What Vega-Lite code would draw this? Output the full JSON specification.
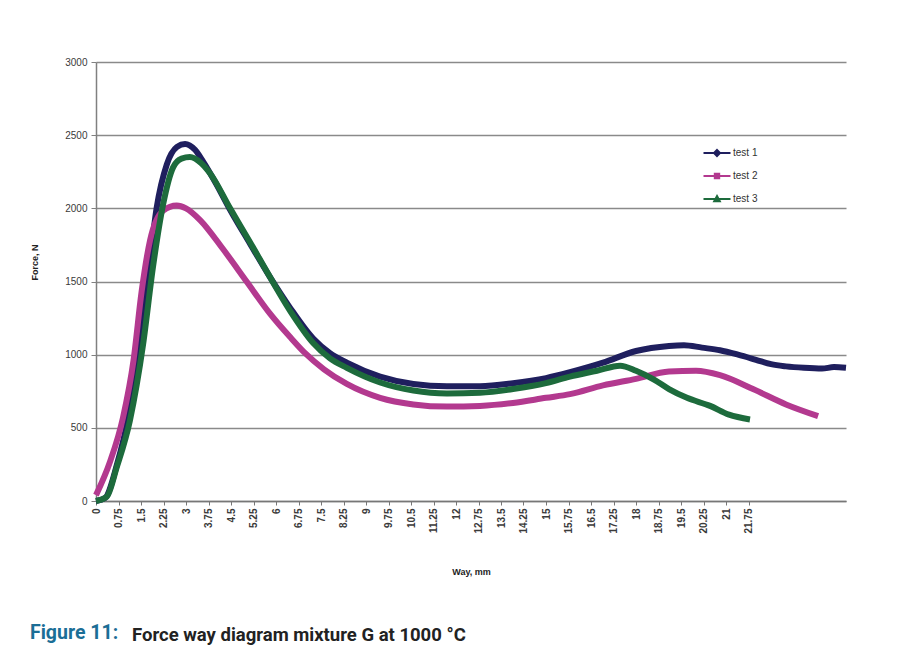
{
  "$schema": "https://vega.github.io/schema/vega-lite/v6.json",
  "background": "white",
  "padding": {"left": 30, "top": 57, "right": 5, "bottom": 5},
  "config": {"view": {"stroke": null}, "font": "Liberation Sans", "concat": {"spacing": 0}},
  "title": {"text": "Figure 11:", "orient": "bottom", "anchor": "start", "frame": "bounds", "color": "#1b6e96", "fontSize": 19.5, "font": "Roboto", "fontWeight": "bold", "offset": -21},
  "vconcat": [
    {
      "width": 750,
      "height": 439,
      "title": {"text": "Force way diagram mixture G at 1000 °C", "orient": "bottom", "anchor": "start", "frame": "bounds", "dx": 102, "offset": 50, "color": "#222222", "fontSize": 18.5, "font": "Roboto", "fontWeight": "bold"},
      "data": {"values": [
        {"series": "test 1", "way": 0, "force": 0},
        {"series": "test 1", "way": 0.3, "force": 20},
        {"series": "test 1", "way": 0.7, "force": 250},
        {"series": "test 1", "way": 1.1, "force": 600},
        {"series": "test 1", "way": 1.5, "force": 1150},
        {"series": "test 1", "way": 1.8, "force": 1650},
        {"series": "test 1", "way": 2.02, "force": 2000},
        {"series": "test 1", "way": 2.36, "force": 2300},
        {"series": "test 1", "way": 2.7, "force": 2420},
        {"series": "test 1", "way": 2.97, "force": 2440},
        {"series": "test 1", "way": 3.3, "force": 2400},
        {"series": "test 1", "way": 3.57, "force": 2320},
        {"series": "test 1", "way": 4.0, "force": 2170},
        {"series": "test 1", "way": 4.47, "force": 1990},
        {"series": "test 1", "way": 5.13, "force": 1760},
        {"series": "test 1", "way": 5.8, "force": 1530},
        {"series": "test 1", "way": 6.47, "force": 1320},
        {"series": "test 1", "way": 7.24, "force": 1110},
        {"series": "test 1", "way": 7.8, "force": 1010},
        {"series": "test 1", "way": 8.36, "force": 945},
        {"series": "test 1", "way": 9.47, "force": 850},
        {"series": "test 1", "way": 10.58, "force": 800},
        {"series": "test 1", "way": 11.7, "force": 785},
        {"series": "test 1", "way": 12.8, "force": 785},
        {"series": "test 1", "way": 13.9, "force": 805},
        {"series": "test 1", "way": 15.0, "force": 840},
        {"series": "test 1", "way": 15.8, "force": 880},
        {"series": "test 1", "way": 16.9, "force": 945},
        {"series": "test 1", "way": 18.0, "force": 1025},
        {"series": "test 1", "way": 19.1, "force": 1060},
        {"series": "test 1", "way": 19.6, "force": 1065},
        {"series": "test 1", "way": 20.2, "force": 1048},
        {"series": "test 1", "way": 20.8, "force": 1030},
        {"series": "test 1", "way": 21.4, "force": 1000},
        {"series": "test 1", "way": 22.0, "force": 965},
        {"series": "test 1", "way": 22.5, "force": 935},
        {"series": "test 1", "way": 23.0, "force": 920},
        {"series": "test 1", "way": 23.6, "force": 910},
        {"series": "test 1", "way": 24.2, "force": 905},
        {"series": "test 1", "way": 24.6, "force": 915},
        {"series": "test 1", "way": 25.0, "force": 910},
        {"series": "test 2", "way": 0, "force": 40},
        {"series": "test 2", "way": 0.47, "force": 270},
        {"series": "test 2", "way": 0.9, "force": 570},
        {"series": "test 2", "way": 1.25, "force": 960},
        {"series": "test 2", "way": 1.52, "force": 1430},
        {"series": "test 2", "way": 1.8, "force": 1780},
        {"series": "test 2", "way": 2.24, "force": 1985},
        {"series": "test 2", "way": 2.69, "force": 2020},
        {"series": "test 2", "way": 3.0, "force": 2000},
        {"series": "test 2", "way": 3.47, "force": 1920},
        {"series": "test 2", "way": 4.24, "force": 1720},
        {"series": "test 2", "way": 5.02, "force": 1500},
        {"series": "test 2", "way": 5.8, "force": 1280},
        {"series": "test 2", "way": 6.47, "force": 1120},
        {"series": "test 2", "way": 6.97, "force": 1010},
        {"series": "test 2", "way": 7.6, "force": 900},
        {"series": "test 2", "way": 8.36, "force": 800},
        {"series": "test 2", "way": 9.47, "force": 705},
        {"series": "test 2", "way": 10.58, "force": 660},
        {"series": "test 2", "way": 11.7, "force": 645},
        {"series": "test 2", "way": 12.8, "force": 650},
        {"series": "test 2", "way": 13.9, "force": 670},
        {"series": "test 2", "way": 15.0, "force": 705},
        {"series": "test 2", "way": 15.8, "force": 730},
        {"series": "test 2", "way": 16.9, "force": 790},
        {"series": "test 2", "way": 18.0, "force": 835},
        {"series": "test 2", "way": 19.1, "force": 885},
        {"series": "test 2", "way": 20.0, "force": 890},
        {"series": "test 2", "way": 20.8, "force": 860},
        {"series": "test 2", "way": 21.9, "force": 765},
        {"series": "test 2", "way": 23.0, "force": 660},
        {"series": "test 2", "way": 24.07, "force": 580},
        {"series": "test 3", "way": 0, "force": 0},
        {"series": "test 3", "way": 0.36, "force": 30},
        {"series": "test 3", "way": 0.69, "force": 230},
        {"series": "test 3", "way": 1.13, "force": 550},
        {"series": "test 3", "way": 1.57, "force": 1070},
        {"series": "test 3", "way": 1.9, "force": 1600},
        {"series": "test 3", "way": 2.24, "force": 2030},
        {"series": "test 3", "way": 2.57, "force": 2280},
        {"series": "test 3", "way": 2.85, "force": 2340},
        {"series": "test 3", "way": 3.13, "force": 2350},
        {"series": "test 3", "way": 3.5, "force": 2310},
        {"series": "test 3", "way": 3.8, "force": 2240},
        {"series": "test 3", "way": 4.47, "force": 2000},
        {"series": "test 3", "way": 5.13, "force": 1770},
        {"series": "test 3", "way": 5.8, "force": 1530},
        {"series": "test 3", "way": 6.47, "force": 1300},
        {"series": "test 3", "way": 7.24, "force": 1080},
        {"series": "test 3", "way": 7.8, "force": 975},
        {"series": "test 3", "way": 8.36, "force": 910},
        {"series": "test 3", "way": 9.47, "force": 810},
        {"series": "test 3", "way": 10.58, "force": 755},
        {"series": "test 3", "way": 11.7, "force": 735},
        {"series": "test 3", "way": 12.8, "force": 740},
        {"series": "test 3", "way": 13.9, "force": 765},
        {"series": "test 3", "way": 15.0, "force": 805},
        {"series": "test 3", "way": 15.8, "force": 850},
        {"series": "test 3", "way": 16.7, "force": 890},
        {"series": "test 3", "way": 17.47, "force": 925},
        {"series": "test 3", "way": 18.0, "force": 890},
        {"series": "test 3", "way": 18.6, "force": 830},
        {"series": "test 3", "way": 19.1, "force": 765},
        {"series": "test 3", "way": 19.7, "force": 705},
        {"series": "test 3", "way": 20.47, "force": 650},
        {"series": "test 3", "way": 21.1, "force": 590},
        {"series": "test 3", "way": 21.8, "force": 557}
      ]},
      "mark": {"type": "line", "strokeWidth": 6, "interpolate": "monotone"},
      "encoding": {
        "x": {
          "field": "way", "type": "quantitative",
          "scale": {"domain": [0, 25], "nice": false, "zero": true},
          "axis": {
            "values": [0, 0.75, 1.5, 2.25, 3, 3.75, 4.5, 5.25, 6, 6.75, 7.5, 8.25, 9, 9.75, 10.5, 11.25, 12, 12.75, 13.5, 14.25, 15, 15.75, 16.5, 17.25, 18, 18.75, 19.5, 20.25, 21, 21.75],
            "labelExpr": "'' + datum.value",
            "labelAngle": -90, "labelAlign": "right", "labelBaseline": "middle",
            "labelFontSize": 10, "labelFontWeight": "bold", "labelColor": "#3a3a3a", "labelPadding": 3,
            "grid": false, "tickSize": 4, "tickColor": "#777777", "domainColor": "#777777", "domainWidth": 1.5,
            "title": "Way, mm", "titleFontSize": 9, "titleFontWeight": "bold", "titleColor": "#222222", "titlePadding": 34
          }
        },
        "y": {
          "field": "force", "type": "quantitative",
          "scale": {"domain": [0, 3000], "nice": false},
          "axis": {
            "values": [0, 500, 1000, 1500, 2000, 2500, 3000],
            "labelExpr": "'' + datum.value",
            "labelFontSize": 10, "labelColor": "#3a3a3a", "labelPadding": 4,
            "tickSize": 5, "tickColor": "#808080", "domainColor": "#808080", "domainWidth": 1.5,
            "grid": true, "gridColor": "#8a8a8a", "gridWidth": 1.5,
            "title": "Force, N", "titleFontSize": 9, "titleFontWeight": "bold", "titleColor": "#222222",
            "titleX": -57, "titleY": 200
          }
        },
        "color": {
          "field": "series", "type": "nominal",
          "scale": {"domain": ["test 1", "test 2", "test 3"], "range": ["#1f1f5e", "#b3398f", "#1d6b3c"]},
          "legend": {
            "orient": "none", "legendX": 610, "legendY": 80, "title": null,
            "symbolSize": 400, "symbolStrokeWidth": 2,
            "labelFontSize": 10, "labelColor": "#333333", "labelOffset": 5, "rowPadding": 5,
            "encode": {"symbols": {"update": {
              "shape": {"signal": "datum.value == 'test 1' ? 'M-1.35,0H1.35M0,-0.3L0.3,0L0,0.3L-0.3,0Z' : datum.value == 'test 2' ? 'M-1.35,0H1.35M-0.22,-0.22H0.22V0.22H-0.22Z' : 'M-1.35,0H1.35M0,-0.3L0.28,0.22H-0.28Z'"},
              "fill": {"signal": "scale('color', datum.value)"},
              "stroke": {"signal": "scale('color', datum.value)"},
              "strokeWidth": {"value": 2}
            }}}
          }
        }
      }
    }
  ]
}
